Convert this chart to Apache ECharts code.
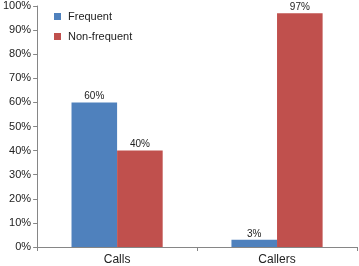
<!DOCTYPE html>
<html><head><meta charset="utf-8">
<script src="https://cdn.jsdelivr.net/npm/echarts@6/dist/echarts.min.js"></script>
<style>html,body{margin:0;padding:0;background:#fff}#c{width:359px;height:266px}</style>
</head><body><div id="c"></div>
<script>
const categories = ['Calls', 'Callers'];
const frequent = [60, 3];
const nonFrequent = [40, 97];
const yTicks = [0, 10, 20, 30, 40, 50, 60, 70, 80, 90, 100];

const chart = echarts.init(document.getElementById('c'));
const lbl = {show: true, position: 'top', formatter: '{c}%', color: '#222', fontSize: 10, fontFamily: 'Liberation Sans, Arial', distance: 1};
chart.setOption({
  animation: false,
  textStyle: {fontFamily: 'Liberation Sans, Arial'},
  grid: {left: 33, right: 2, top: 6, bottom: 19, containLabel: false},
  legend: {
    orient: 'vertical', left: 50, top: 7, itemWidth: 7, itemHeight: 7, itemGap: 9,
    icon: 'rect', padding: [4, 4, 4, 4],
    textStyle: {fontSize: 11, color: '#222', fontFamily: 'Liberation Sans, Arial', padding: [0, 0, 0, 2]},
    data: ['Frequent', 'Non-frequent']
  },
  xAxis: {
    type: 'category', data: categories,
    axisLine: {lineStyle: {color: '#868686'}},
    axisTick: {show: true, length: 4, lineStyle: {color: '#868686'}},
    axisLabel: {fontSize: 12, color: '#222', margin: 7}
  },
  yAxis: {
    type: 'value', min: 0, max: 100, interval: 10,
    axisLine: {show: true, lineStyle: {color: '#868686'}},
    axisTick: {show: true, length: 4, lineStyle: {color: '#868686'}},
    splitLine: {show: false},
    axisLabel: {fontSize: 11, color: '#222', margin: 6, formatter: v => yTicks.includes(v) ? v + '%' : ''}
  },
  series: [
    {name: 'Frequent', type: 'bar', data: frequent, itemStyle: {color: '#4F81BD'}, barGap: '0%', barCategoryGap: '43%', label: lbl},
    {name: 'Non-frequent', type: 'bar', data: nonFrequent, itemStyle: {color: '#C0504D'}, barGap: '0%', barCategoryGap: '43%', label: lbl}
  ]
});
</script></body></html>
